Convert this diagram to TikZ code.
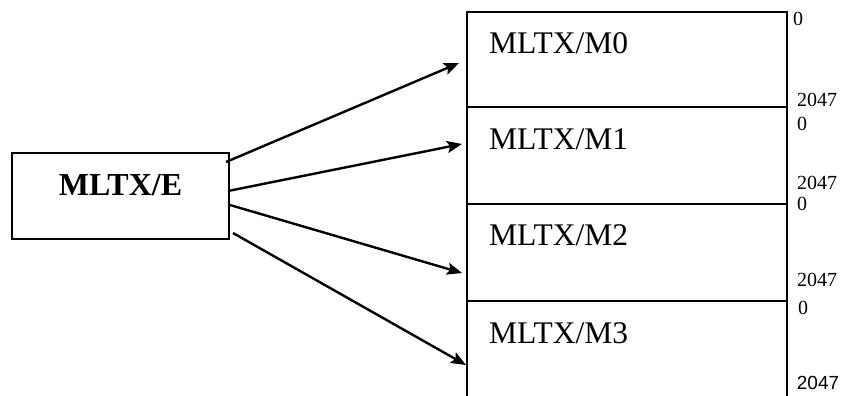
\documentclass[tikz,border=0pt]{standalone}
\usepackage{fontspec}
\setmainfont{Liberation Serif}
\newfontfamily\numsans{Liberation Sans}
\usetikzlibrary{arrows.meta}
\begin{document}
\begin{tikzpicture}[x=1pt,y=-1pt,
  frame/.style={draw=black,line width=1.8pt},
  memline/.style={draw=black,line width=1.8pt},
  link/.style={draw=black,line width=2.4pt,-{Stealth[length=15pt,width=12pt,inset=3pt]}},
  blocklabel/.style={anchor=base west,inner sep=0pt,font=\fontsize{31.5}{36}\selectfont},
  addr/.style={anchor=center,inner sep=0pt,font=\fontsize{20}{22}\selectfont}]
\useasboundingbox (0,0) rectangle (843,396);

% engine box
\node[frame,minimum width=217pt,minimum height=86pt,inner sep=0pt] (eng) at (120.5,196) {};
\node[anchor=base,inner sep=0pt,font=\fontsize{32}{36}\selectfont\bfseries] (englabel) at (120.5,195) {MLTX/E};

% memory stack, open at the bottom
\coordinate (mtl) at (467,12);
\coordinate (mtr) at (787,12);
\coordinate (mbl) at (467,396);
\coordinate (mbr) at (787,396);
\draw[memline] (mbl) -- (mtl) -- (mtr) -- (mbr);
\coordinate (d1l) at (467,107); \coordinate (d1r) at (787,107);
\coordinate (d2l) at (467,204); \coordinate (d2r) at (787,204);
\coordinate (d3l) at (467,301); \coordinate (d3r) at (787,301);
\draw[memline] (d1l) -- (d1r);
\draw[memline] (d2l) -- (d2r);
\draw[memline] (d3l) -- (d3r);

\node[blocklabel] (m0) at (489,53) {MLTX/M0};
\node[blocklabel] (m1) at (489,149) {MLTX/M1};
\node[blocklabel] (m2) at (489,245) {MLTX/M2};
\node[blocklabel] (m3) at (489,343) {MLTX/M3};

% address ranges
\node[addr] (a0s) at (798,19) {0};
\node[addr] (a0e) at (817,100) {2047};
\node[addr] (a1s) at (802,124) {0};
\node[addr] (a1e) at (817,183) {2047};
\node[addr] (a2s) at (802,204) {0};
\node[addr] (a2e) at (817,280) {2047};
\node[addr] (a3s) at (803,308) {0};
\node[addr,font=\numsans\fontsize{19}{21}\selectfont] (a3e) at (818,383) {2047};

% links from the engine to each memory block
\coordinate (s0) at (226,162); \coordinate (t0) at (459,63);
\coordinate (s1) at (228,191); \coordinate (t1) at (462,144);
\coordinate (s2) at (230,205); \coordinate (t2) at (462,273);
\coordinate (s3) at (233,233); \coordinate (t3) at (466,365);
\draw[link] (s0) -- (t0);
\draw[link] (s1) -- (t1);
\draw[link] (s2) -- (t2);
\draw[link] (s3) -- (t3);
\end{tikzpicture}
\end{document}
